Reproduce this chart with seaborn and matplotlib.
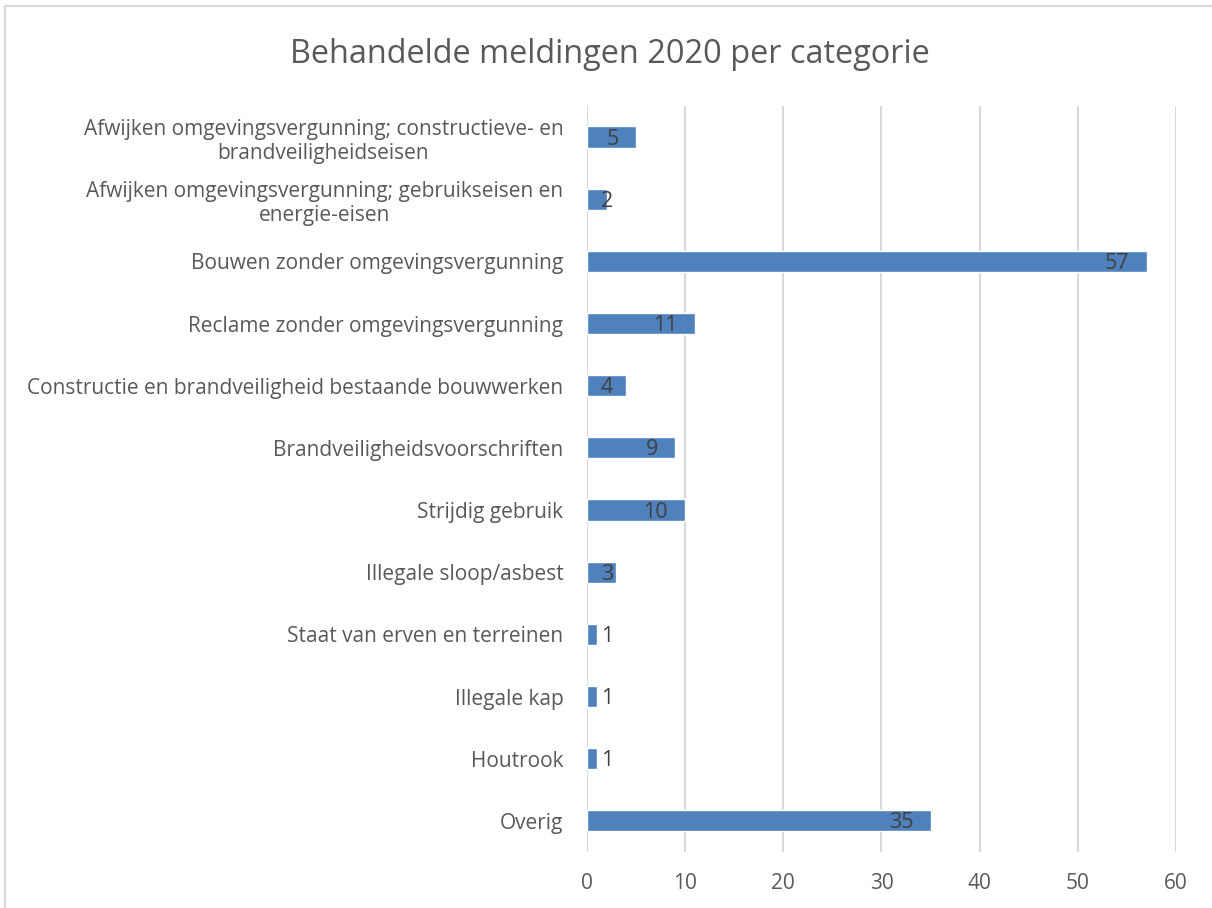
import pandas as pd
import matplotlib.pyplot as plt
import seaborn as sns
from matplotlib.lines import Line2D

categories = [
    "Afwijken omgevingsvergunning; constructieve- en\nbrandveiligheidseisen",
    "Afwijken omgevingsvergunning; gebruikseisen en\nenergie-eisen",
    "Bouwen zonder omgevingsvergunning",
    "Reclame zonder omgevingsvergunning",
    "Constructie en brandveiligheid bestaande bouwwerken",
    "Brandveiligheidsvoorschriften",
    "Strijdig gebruik",
    "Illegale sloop/asbest",
    "Staat van erven en terreinen",
    "Illegale kap",
    "Houtrook",
    "Overig",
]
counts = [5, 2, 57, 11, 4, 9, 10, 3, 1, 1, 1, 35]
x_ticks = [0, 10, 20, 30, 40, 50, 60]

df = pd.DataFrame({"Categorie": categories, "Aantal": counts})

sns.set_theme(style="whitegrid")
plt.rcParams["font.family"] = ["Open Sans", "DejaVu Sans"]

fig = plt.figure(figsize=(12.12, 9.08), dpi=100)
ax = fig.add_axes([0.4843, 0.0617, 0.4860, 0.8216])

sns.barplot(data=df, x="Aantal", y="Categorie", orient="h", color="#4F81BD",
            saturation=1, width=0.34, ax=ax)

ax.set_xlim(0, 60)
ax.set_xticks(x_ticks)
ax.set_xlabel("")
ax.set_ylabel("")
ax.grid(axis="x", color="#D9D9D9", linewidth=1.5)
ax.grid(axis="y", visible=False)
for s in ax.spines.values():
    s.set_visible(False)
ax.set_facecolor("white")

ax.tick_params(axis="x", length=0, pad=15, labelsize=15, labelcolor="#595959")
ax.tick_params(axis="y", length=0, pad=17, labelsize=15, labelcolor="#595959")
for lbl in ax.get_yticklabels():
    lbl.set_multialignment("center")

# data labels, Excel style "inside end"
for i, v in enumerate(counts):
    if v >= 5:
        ax.annotate(str(v), (v, i), xytext=(-17, -2), textcoords="offset pixels",
                    ha="right", va="center", fontsize=15.5, color="#404040")
    else:
        ax.annotate(str(v), (0, i), xytext=(14, -2), textcoords="offset pixels",
                    ha="left", va="center", fontsize=15.5, color="#404040")

fig.text(0.503, 0.940, "Behandelde meldingen 2020 per categorie", ha="center",
         va="center", fontsize=23.4, color="#595959")

# chart area border
fig.add_artist(Line2D([5 / 1212, 1.0], [1 - 6 / 908, 1 - 6 / 908], color="#D9D9D9",
                      linewidth=1.5, transform=fig.transFigure))
fig.add_artist(Line2D([5 / 1212, 5 / 1212], [0.0, 1 - 6 / 908], color="#D9D9D9",
                      linewidth=1.5, transform=fig.transFigure))

fig.savefig("out.png", dpi=100, facecolor="white")
